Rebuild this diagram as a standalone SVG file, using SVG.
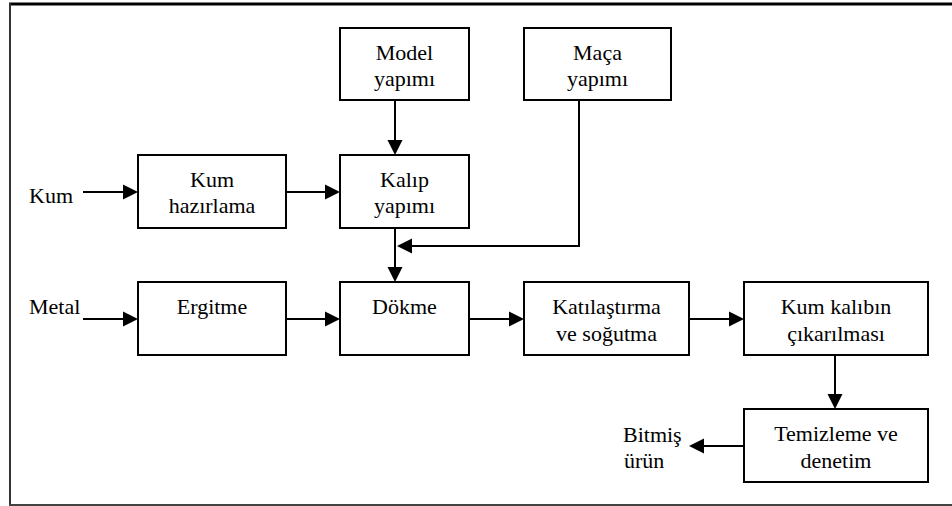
<svg xmlns="http://www.w3.org/2000/svg" width="952" height="506" viewBox="0 0 952 506">
<style>
.box{fill:#fff;stroke:#000;stroke-width:2}
.m{text-anchor:middle}
.c{fill:none;stroke:#000;stroke-width:2}
</style>
<defs>
<marker id="ah" viewBox="0 -8 16 16" markerWidth="16" markerHeight="16" refX="1" refY="0" orient="auto" markerUnits="userSpaceOnUse">
<path d="M0,-7.5 L15,0 L0,7.5 Z" fill="#000"/>
</marker>
</defs>
<rect width="952" height="506" fill="#fff"/>
<g id="frame">
<line x1="9" y1="4" x2="952" y2="4" stroke="#000" stroke-width="3"/>
<line x1="10" y1="3" x2="10" y2="505" stroke="#333" stroke-width="2"/>
<line x1="9" y1="505" x2="952" y2="505" stroke="#444" stroke-width="2"/>
</g>
<g id="connectors">
<path class="c" d="M83,192 H124" marker-end="url(#ah)"/>
<path class="c" d="M286,192 H326" marker-end="url(#ah)"/>
<path class="c" d="M395,100 V141" marker-end="url(#ah)"/>
<path class="c" d="M579,100 V246 H411" marker-end="url(#ah)"/>
<path class="c" d="M395,228 V268" marker-end="url(#ah)"/>
<path class="c" d="M83,319 H124" marker-end="url(#ah)"/>
<path class="c" d="M286,319 H326" marker-end="url(#ah)"/>
<path class="c" d="M469,319 H510" marker-end="url(#ah)"/>
<path class="c" d="M689,319 H730" marker-end="url(#ah)"/>
<path class="c" d="M835,355 V395" marker-end="url(#ah)"/>
<path class="c" d="M744,446 H703" marker-end="url(#ah)"/>
</g>
<g style="font-family:'Liberation Serif','Times New Roman',serif;font-size:22px" fill="#000">
<g id="kum-label"><text x="29" y="203">Kum</text></g>
<g id="metal-label"><text x="29" y="314">Metal</text></g>
<g id="bitmis-label"><text x="623" y="442">Bitmiş</text><text x="624" y="468">ürün</text></g>
<g id="model"><rect class="box" x="340" y="28" width="129" height="72"/><text class="m" x="404.5" y="60">Model</text><text class="m" x="404.5" y="86">yapımı</text></g>
<g id="maca"><rect class="box" x="524" y="28" width="147" height="72"/><text class="m" x="597.5" y="60">Maça</text><text class="m" x="597.5" y="86">yapımı</text></g>
<g id="kum-hazirlama"><rect class="box" x="138" y="155" width="148" height="73"/><text class="m" x="212" y="187">Kum</text><text class="m" x="212" y="213">hazırlama</text></g>
<g id="kalip"><rect class="box" x="340" y="155" width="129" height="73"/><text class="m" x="404.5" y="187">Kalıp</text><text class="m" x="404.5" y="213">yapımı</text></g>
<g id="ergitme"><rect class="box" x="138" y="282" width="148" height="73"/><text class="m" x="212" y="314">Ergitme</text></g>
<g id="dokme"><rect class="box" x="340" y="282" width="129" height="73"/><text class="m" x="404.5" y="314">Dökme</text></g>
<g id="katilastirma"><rect class="box" x="524" y="282" width="165" height="73"/><text class="m" x="606.5" y="314">Katılaştırma</text><text class="m" x="606.5" y="341">ve soğutma</text></g>
<g id="kum-kalibin"><rect class="box" x="744" y="282" width="184" height="73"/><text class="m" x="836" y="314">Kum kalıbın</text><text class="m" x="836" y="341">çıkarılması</text></g>
<g id="temizleme"><rect class="box" x="744" y="409" width="184" height="73"/><text class="m" x="836" y="441">Temizleme ve</text><text class="m" x="836" y="468">denetim</text></g>
</g>
</svg>
